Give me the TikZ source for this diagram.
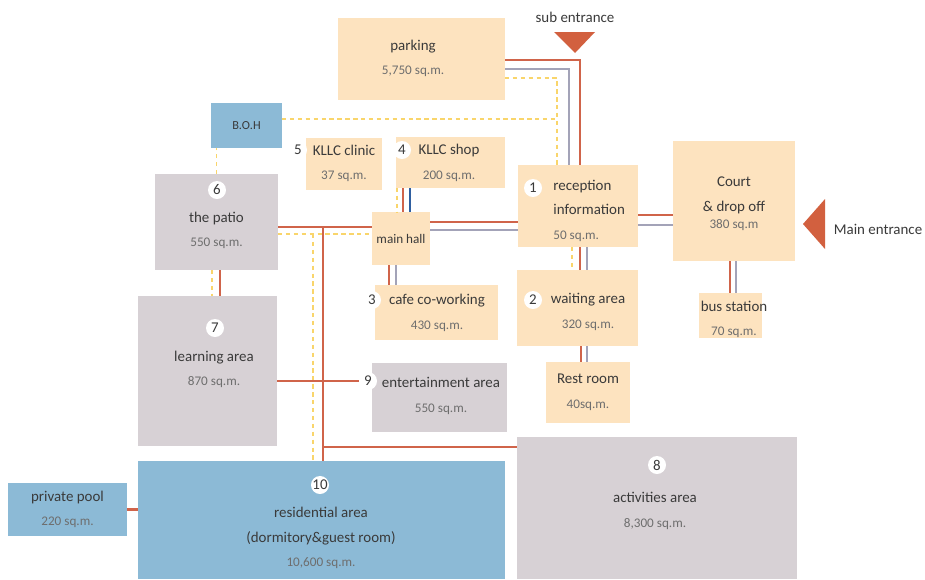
\documentclass[tikz,border=0pt]{standalone}
\usepackage{fontspec}
\setmainfont{Carlito}
\usepackage{tikz}
\usetikzlibrary{calc}
\definecolor{zoneorange}{HTML}{FDE3BF}
\definecolor{zonegrey}{HTML}{D7D1D5}
\definecolor{zoneblue}{HTML}{8CBAD6}
\definecolor{linered}{HTML}{D0644A}
\definecolor{linegrey}{HTML}{A3A3B8}
\definecolor{lineyellow}{HTML}{F9D56B}
\definecolor{lineblue}{HTML}{2F5FA0}
\definecolor{entrancered}{HTML}{D2603F}
\definecolor{titletext}{HTML}{3A3A3A}
\definecolor{areatext}{HTML}{6E6E6E}
\tikzset{
  zone/.style={rectangle, draw=none, inner sep=0pt, outer sep=0pt},
  orangezone/.style={zone, fill=zoneorange},
  greyzone/.style={zone, fill=zonegrey},
  bluezone/.style={zone, fill=zoneblue},
  zonetext/.style={align=center, text=titletext, font=\fontsize{8.5}{14}\selectfont, inner sep=0pt},
  numtag/.style={circle, fill=white, inner sep=0pt, minimum size=3.6mm, text=titletext, font=\fontsize{8.5}{10}\selectfont},
  redline/.style={linered, line width=1.3pt},
  greyline/.style={linegrey, line width=1.1pt},
  blueline/.style={lineblue, line width=1.1pt},
  yellowline/.style={lineyellow, line width=0.7pt, dash pattern=on 2.5pt off 2pt}
}
\newcommand{\areatxt}[1]{{\fontsize{7.5}{14}\selectfont\color{areatext}#1}}

\begin{document}
\begin{tikzpicture}[x=0.2mm, y=-0.2mm]

    \path[use as bounding box, fill=white] (0,0) rectangle (925,579);

    % -------------------------------------------------------------
    % ZONAS
    % -------------------------------------------------------------
    \node[orangezone, minimum width=33.4mm, minimum height=16.4mm] (parking) at (421.5,59) {};
    \node[bluezone, minimum width=14.2mm, minimum height=9mm] (boh) at (246.5,125.5) {};
    \node[orangezone, minimum width=15.2mm, minimum height=10.4mm] (clinic) at (344,164) {};
    \node[orangezone, minimum width=21.8mm, minimum height=10.2mm] (shop) at (450.5,162.5) {};
    \node[greyzone, minimum width=24.6mm, minimum height=19.2mm] (patio) at (216.5,222) {};
    \node[orangezone, minimum width=11.6mm, minimum height=10.6mm] (hall) at (401,238.5) {};
    \node[orangezone, minimum width=24mm, minimum height=16.4mm] (reception) at (578,206) {};
    \node[orangezone, minimum width=24.4mm, minimum height=24mm] (court) at (734,201) {};
    \node[orangezone, minimum width=24.2mm, minimum height=15.2mm] (waiting) at (577.5,308) {};
    \node[orangezone, minimum width=12.6mm, minimum height=9mm] (bus) at (730.5,315.5) {};
    \node[orangezone, minimum width=16.8mm, minimum height=12.2mm] (rest) at (588,392.5) {};
    \node[orangezone, minimum width=24.6mm, minimum height=11mm] (cafe) at (436.5,312.5) {};
    \node[greyzone, minimum width=27mm, minimum height=13.8mm] (enter) at (439.5,397.5) {};
    \node[greyzone, minimum width=27.8mm, minimum height=30mm] (learning) at (207.5,371) {};
    \node[bluezone, minimum width=73.4mm, minimum height=23.6mm] (residential) at (321.5,520) {};
    \node[bluezone, minimum width=23.8mm, minimum height=10.6mm] (pool) at (67.5,509.5) {};
    \node[greyzone, minimum width=56mm, minimum height=28.4mm] (activities) at (657,508) {};

    % Entradas
    \fill[entrancered] (554,32) -- (595,32) -- (575,53) -- cycle;
    \fill[entrancered] (825,199) -- (825,249) -- (803,224) -- cycle;
    \node[zonetext] (subent) at (575,17) {sub entrance};
    \node[zonetext] (mainent) at (878,229) {Main entrance};

    % -------------------------------------------------------------
    % TEXTOS
    % -------------------------------------------------------------
    \node[zonetext] (parkingT) at (413,58.5) {parking\\\areatxt{5,750 sq.m.}};
    \node[zonetext, font=\fontsize{7}{9}\selectfont] (bohT) at (246.5,126) {B.O.H};
    \node[zonetext] (clinicT) at (344,163.5) {KLLC clinic\\\areatxt{37 sq.m.}};
    \node[zonetext] (shopT) at (449,163) {KLLC shop\\\areatxt{200 sq.m.}};
    \node[zonetext] (patioT) at (216.5,230.5) {the patio\\\areatxt{550 sq.m.}};
    \node[zonetext, font=\fontsize{7.5}{9}\selectfont] (hallT) at (401,239) {main hall};
    \node[zonetext, align=left, anchor=west] (receptionT) at (553,210.5) {reception\\information\\\areatxt{50 sq.m.}};
    \node[zonetext] (courtT) at (734,204) {Court\\\& drop off\\[-4pt]\areatxt{380 sq.m}};
    \node[zonetext] (waitingT) at (588,312) {waiting area\\\areatxt{320 sq.m.}};
    \node[zonetext] (busT) at (734,319.5) {bus station\\\areatxt{70 sq.m.}};
    \node[zonetext] (restT) at (588,392.5) {Rest room\\\areatxt{40sq.m.}};
    \node[zonetext] (cafeT) at (437,313) {cafe co-working\\\areatxt{430 sq.m.}};
    \node[zonetext] (enterT) at (441,396) {entertainment area\\\areatxt{550 sq.m.}};
    \node[zonetext] (learningT) at (214,369.5) {learning area\\\areatxt{870 sq.m.}};
    \node[zonetext] (residentialT) at (321,538) {residential area\\(dormitory\&guest room)\\\areatxt{10,600 sq.m.}};
    \node[zonetext] (poolT) at (67.5,509.5) {private pool\\\areatxt{220 sq.m.}};
    \node[zonetext] (activitiesT) at (655,511) {activities area\\\areatxt{8,300 sq.m.}};

    % Numeros
    \node[numtag] (n1) at (533,188) {1};
    \node[numtag] (n2) at (533,300) {2};
    \node[numtag] (n3) at (372,300) {3};
    \node[numtag] (n4) at (402,150) {4};
    \node[numtag] (n5) at (298,150) {5};
    \node[numtag] (n6) at (217,190) {6};
    \node[numtag] (n7) at (215,328) {7};
    \node[numtag] (n8) at (657,465) {8};
    \node[numtag] (n9) at (368,381) {9};
    \node[numtag] (n10) at (320,485) {10};

    % -------------------------------------------------------------
    % CONEXIONES
    % -------------------------------------------------------------
    \coordinate (r1) at (580,60);
    \coordinate (g1) at (569,69);
    \coordinate (y1) at (557,78);
    \coordinate (y2) at (557,119);
    \coordinate (pr) at (220,0);
    \coordinate (py) at (212,0);
    \coordinate (hr) at (323,227);
    \coordinate (hy) at (313,234);
    \coordinate (ha) at (323,447);
    \coordinate (sr) at (403,0);
    \coordinate (sb) at (410,0);
    \coordinate (sy) at (397,0);
    \coordinate (cr) at (389,0);
    \coordinate (cg) at (396,0);
    \coordinate (mr) at (0,222);
    \coordinate (mg) at (0,230);
    \coordinate (ur) at (0,215);
    \coordinate (ug) at (0,225);
    \coordinate (wy) at (572,0);
    \coordinate (wr) at (580,0);
    \coordinate (wg) at (587,0);
    \coordinate (xr) at (581,0);
    \coordinate (xg) at (587,0);
    \coordinate (br) at (730,0);
    \coordinate (bg) at (736,0);

    % Parking -> reception (sub entrance)
    \draw[redline] (parking.east |- r1) -| (reception.north -| r1);
    \draw[greyline] (parking.east |- g1) -| (reception.north -| g1);
    \draw[yellowline] (parking.east |- y1) -| (reception.north -| y1);
    \draw[yellowline] (boh.east |- y2) -- (y2);

    % B.O.H, patio, learning
    \draw[yellowline] (patio.north) -- (patio.north |- boh.south);
    \draw[redline] (patio.south -| pr) -- (learning.north -| pr);
    \draw[yellowline] (patio.south -| py) -- (learning.north -| py);

    % Patio -> main hall, y bajada a residencial
    \draw[redline] (patio.east |- hr) -- (hall.west |- hr);
    \draw[yellowline] (patio.east |- hy) -- (hall.west |- hy);
    \draw[redline] (hr) -- (hr |- residential.north);
    \draw[yellowline] (hy) -- (hy |- residential.north);
    \draw[redline] (ha) -- (activities.west |- ha);
    \draw[redline] (learning.east |- n9) -- (n9.west);

    % Shop / cafe <-> main hall
    \draw[yellowline] (shop.south -| sy) -- (hall.north -| sy);
    \draw[redline] (shop.south -| sr) -- (hall.north -| sr);
    \draw[blueline] (shop.south -| sb) -- (hall.north -| sb);
    \draw[redline] (hall.south -| cr) -- (cafe.north -| cr);
    \draw[greyline] (hall.south -| cg) -- (cafe.north -| cg);

    % Main hall -> reception -> court
    \draw[redline] (hall.east |- mr) -- (reception.west |- mr);
    \draw[greyline] (hall.east |- mg) -- (reception.west |- mg);
    \draw[redline] (reception.east |- ur) -- (court.west |- ur);
    \draw[greyline] (reception.east |- ug) -- (court.west |- ug);

    % Reception -> waiting -> rest room
    \draw[yellowline] (reception.south -| wy) -- (waiting.north -| wy);
    \draw[redline] (reception.south -| wr) -- (waiting.north -| wr);
    \draw[greyline] (reception.south -| wg) -- (waiting.north -| wg);
    \draw[redline] (waiting.south -| xr) -- (rest.north -| xr);
    \draw[greyline] (waiting.south -| xg) -- (rest.north -| xg);

    % Court -> bus station
    \draw[redline] (court.south -| br) -- (bus.north -| br);
    \draw[greyline] (court.south -| bg) -- (bus.north -| bg);

    % Private pool -> residential
    \draw[redline] (pool.east) -- (residential.west |- pool.east);

\end{tikzpicture}
\end{document}
